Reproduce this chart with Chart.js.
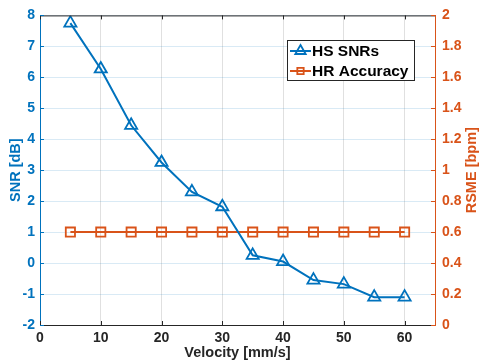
<!DOCTYPE html>
<html>
<head>
<meta charset="UTF-8" />
<title>SNR vs Velocity</title>
<script src="https://cdn.jsdelivr.net/npm/chart.js"></script>
<style>
  html, body { margin: 0; padding: 0; background: #fff; }
  #wrap { width: 479px; height: 362px; }
</style>
</head>
<body>
<div id="wrap"><canvas id="snrChart" width="479" height="362"></canvas></div>
<script>
  const velocity = [5, 10, 15, 20, 25, 30, 35, 40, 45, 50, 55, 60];
  const hsSnr = [7.75, 6.27, 4.45, 3.25, 2.3, 1.82, 0.25, 0.05, -0.55, -0.68, -1.1, -1.1];
  const hrAccuracy = [0.6, 0.6, 0.6, 0.6, 0.6, 0.6, 0.6, 0.6, 0.6, 0.6, 0.6, 0.6];

  const blue = "#0072BD";
  const red = "#D95319";
  const fam = "'Liberation Sans', Arial, sans-serif";
  const font = { family: fam, weight: "bold", size: 14 };

  // matlab style box, inward ticks, rotated titles and legend inside the plot
  const boxLegend = {
    id: "boxLegend",
    afterDraw(chart) {
      const { ctx, chartArea: a, scales } = chart;
      ctx.save();
      ctx.strokeStyle = "#262626";
      ctx.lineWidth = 1;
      ctx.beginPath();
      ctx.moveTo(a.left, a.top + 0.5);
      ctx.lineTo(a.right, a.top + 0.5);
      for (let v = 0; v <= 60; v += 10) {
        const px = Math.round(scales.x.getPixelForValue(v)) + 0.5;
        ctx.moveTo(px, a.top);
        ctx.lineTo(px, a.top + 4);
        ctx.moveTo(px, a.bottom);
        ctx.lineTo(px, a.bottom - 4);
      }
      ctx.stroke();

      ctx.strokeStyle = blue;
      ctx.beginPath();
      scales.y.ticks.forEach(t => {
        const py = Math.round(scales.y.getPixelForValue(t.value)) + 0.5;
        ctx.moveTo(a.left, py);
        ctx.lineTo(a.left + 4, py);
      });
      ctx.stroke();
      ctx.strokeStyle = red;
      ctx.beginPath();
      scales.y1.ticks.forEach(t => {
        const py = Math.round(scales.y1.getPixelForValue(t.value)) + 0.5;
        ctx.moveTo(a.right, py);
        ctx.lineTo(a.right - 4, py);
      });
      ctx.stroke();

      // axis titles
      const midY = (a.top + a.bottom) / 2;
      ctx.font = "bold 14.5px " + fam;
      ctx.textAlign = "center";
      ctx.textBaseline = "middle";
      ctx.fillStyle = "#262626";
      ctx.fillText("Velocity [mm/s]", (a.left + a.right) / 2, 353);
      [["SNR [dB]", 16, blue], ["RSME [bpm]", 472, red]].forEach(([txt, x, c]) => {
        ctx.save();
        ctx.translate(x, midY);
        ctx.rotate(-Math.PI / 2);
        ctx.fillStyle = c;
        ctx.fillText(txt, 0, 0);
        ctx.restore();
      });

      const bx = 287, by = 40, bw = 127, bh = 40;
      ctx.fillStyle = "#fff";
      ctx.fillRect(bx, by, bw, bh);
      ctx.strokeStyle = "#262626";
      ctx.lineWidth = 1;
      ctx.strokeRect(bx + 0.5, by + 0.5, bw, bh);
      ctx.textAlign = "left";
      ctx.font = "bold 15.5px " + fam;
      chart.data.datasets.forEach((ds, i) => {
        const y = by + 11 + i * 20;
        ctx.strokeStyle = ds.borderColor;
        ctx.lineWidth = 2;
        ctx.beginPath();
        ctx.moveTo(bx + 3, y);
        ctx.lineTo(bx + 24, y);
        ctx.stroke();
        ctx.fillStyle = "rgba(0,0,0,0)";
        ctx.lineWidth = 1.8;
        Chart.helpers.drawPoint(ctx, {
          pointStyle: ds.pointStyle,
          radius: i === 0 ? 6 : 4.5,
          borderWidth: 1.8
        }, bx + 13.5, y);
        ctx.fillStyle = "#000";
        ctx.fillText(ds.label, bx + 25, y + 1);
      });
      ctx.restore();
    }
  };

  new Chart(document.getElementById("snrChart"), {
    type: "line",
    data: {
      datasets: [
        {
          label: "HS SNRs",
          data: velocity.map((v, i) => ({ x: v, y: hsSnr[i] })),
          yAxisID: "y",
          borderColor: blue,
          backgroundColor: "rgba(0,0,0,0)",
          borderWidth: 2,
          pointStyle: "triangle",
          pointRadius: 7,
          pointBorderWidth: 1.8,
          pointBorderColor: blue,
          pointBackgroundColor: "rgba(0,0,0,0)"
        },
        {
          label: "HR Accuracy",
          data: velocity.map((v, i) => ({ x: v, y: hrAccuracy[i] })),
          yAxisID: "y1",
          borderColor: red,
          backgroundColor: "rgba(0,0,0,0)",
          borderWidth: 2,
          pointStyle: "rect",
          pointRadius: 6.5,
          pointBorderWidth: 1.8,
          pointBorderColor: red,
          pointBackgroundColor: "rgba(0,0,0,0)"
        }
      ]
    },
    options: {
      responsive: false,
      animation: false,
      layout: { padding: { top: 14, right: 0, left: 0, bottom: 0 } },
      plugins: { legend: { display: false }, tooltip: { enabled: false } },
      scales: {
        x: {
          type: "linear",
          min: 0, max: 65,
          afterBuildTicks: s => { s.ticks = [0, 10, 20, 30, 40, 50, 60].map(v => ({ value: v })); },
          ticks: { color: "#262626", font: font, padding: 5, maxRotation: 0 },
          grid: { color: "rgba(0,0,0,0.12)", drawTicks: false },
          border: { color: "#262626", width: 1 },
          afterFit: s => { s.height = 37; }
        },
        y: {
          position: "left",
          min: -2, max: 8,
          ticks: { stepSize: 1, color: blue, font: font, padding: 5 },
          grid: { color: "rgba(0,114,189,0.15)", drawTicks: false },
          border: { color: blue, width: 1 },
          afterFit: s => { s.width = 40; }
        },
        y1: {
          position: "right",
          min: 0, max: 2,
          ticks: { stepSize: 0.2, color: red, font: font, padding: 7, callback: v => Math.round(v * 10) / 10 },
          grid: { display: false, drawTicks: false },
          border: { color: red, width: 1 },
          afterFit: s => { s.width = 44; }
        }
      }
    },
    plugins: [boxLegend]
  });
</script>
</body>
</html>
